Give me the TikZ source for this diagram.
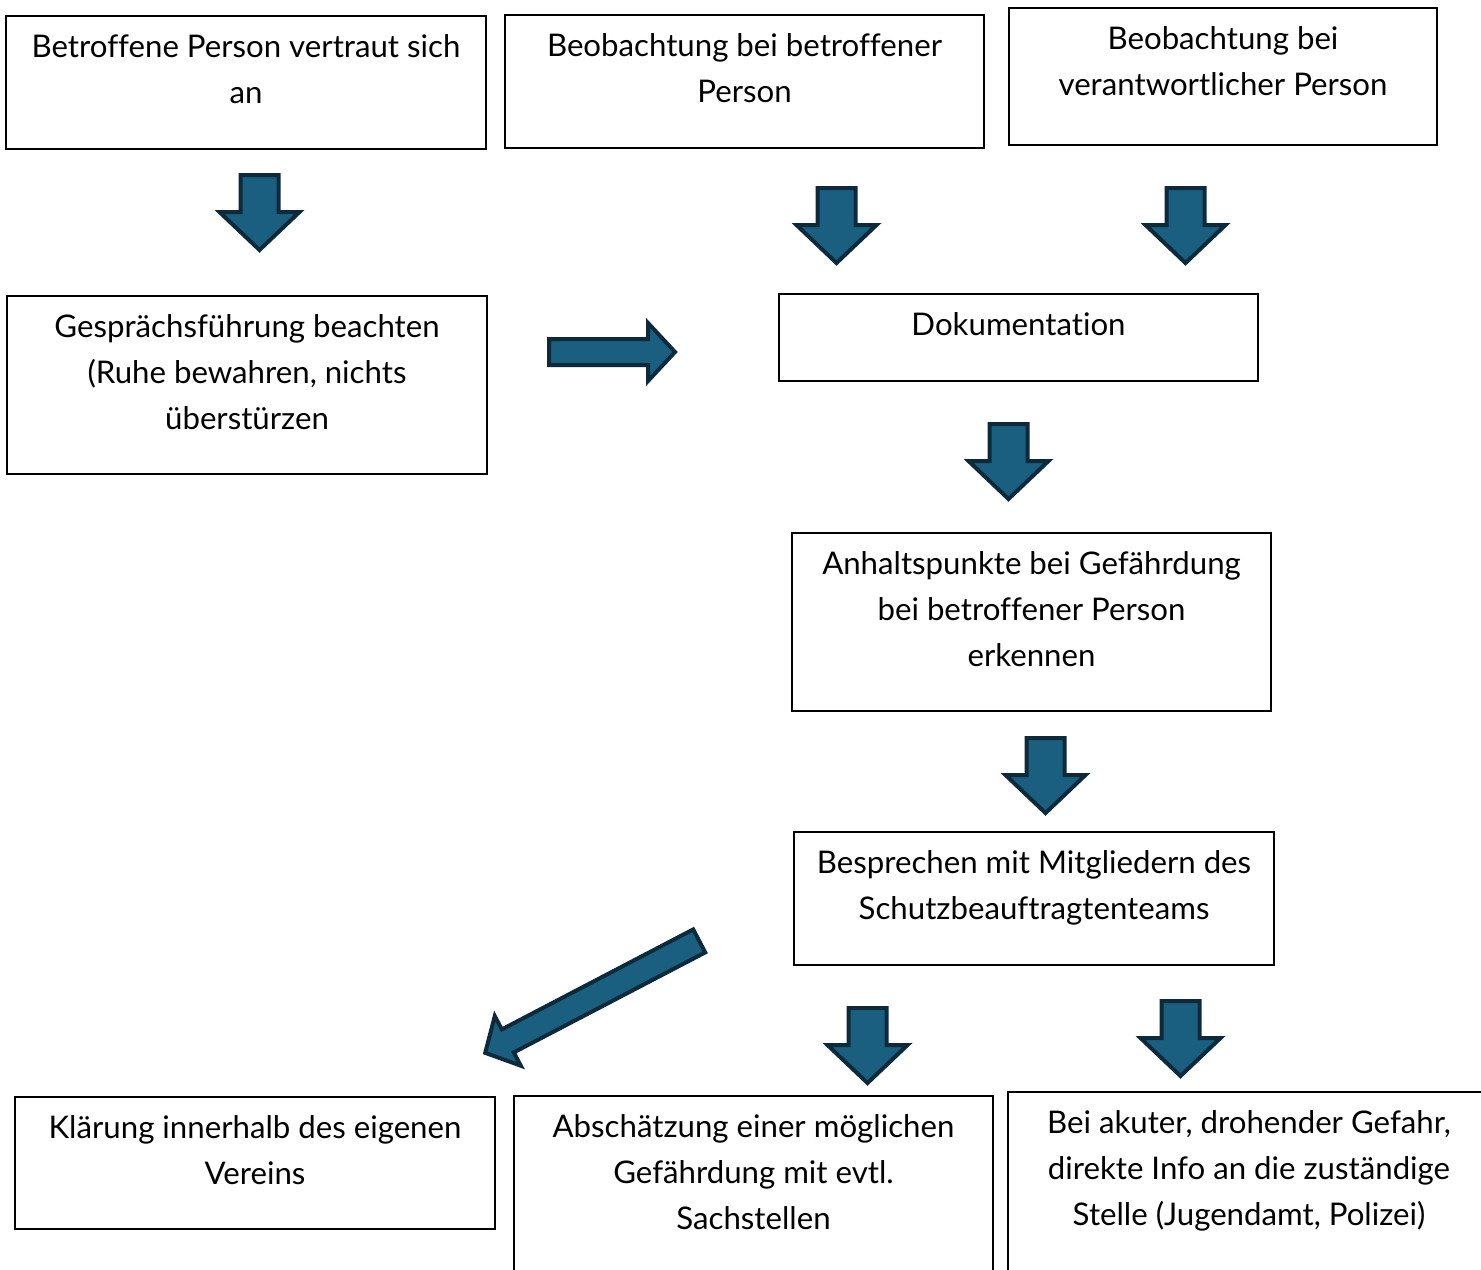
\documentclass[tikz,border=0pt]{standalone}
\usepackage{fontspec}
\setmainfont{Lato}[Ligatures=NoCommon]
\usetikzlibrary{fit, positioning}
\definecolor{arrowfill}{RGB}{26,95,128}
\definecolor{arrowline}{RGB}{13,42,58}

\begin{document}
\begin{tikzpicture}[x=0.5pt, y=-0.5pt,
    box/.style={draw, line width=1pt, inner sep=0pt},
    txt/.style={anchor=north, align=center, inner sep=0pt, font=\fontsize{15.6}{23}\selectfont},
    blockarrow/.style={draw=arrowline, fill=arrowfill, line width=2pt, line join=miter},
    downarrow/.pic={\draw[blockarrow] (-19,0) -- (19,0) -- (19,37) -- (40,37) -- (0,75) -- (-40,37) -- (-19,37) -- cycle;}]
  \useasboundingbox (0,0) rectangle (1481,1269);
  \clip (0,0) rectangle (1481,1269);
  % boxes
  \node[box, fit={(6,16) (486,149)}] (vertraut) {};
  \node[box, fit={(505,15) (984,148)}] (betroffen) {};
  \node[box, fit={(1009,8) (1437,145)}] (verantwortlich) {};
  \node[box, fit={(7,296) (487,474)}] (gespraech) {};
  \node[box, fit={(779,294) (1258,381)}] (doku) {};
  \node[box, fit={(792,533) (1271,711)}] (anhalt) {};
  \node[box, fit={(794,832) (1274,965)}] (besprechen) {};
  \node[box, fit={(15,1097) (495,1229)}] (klaerung) {};
  \node[box, fit={(514,1096) (993,1276)}] (abschaetzung) {};
  \node[box, fit={(1008,1092) (1490,1276)}] (gefahr) {};
  % texts
  \node[txt] (vertrauttxt) at ([yshift=-9.75pt]vertraut.north) {Betroffene Person vertraut sich\\an};
  \node[txt] (betroffentxt) at ([yshift=-9.75pt]betroffen.north) {Beobachtung bei betroffener\\Person};
  \node[txt] (verantwortlichtxt) at ([yshift=-9.75pt]verantwortlich.north) {Beobachtung bei\\verantwortlicher Person};
  \node[txt] (gespraechtxt) at ([yshift=-9.75pt]gespraech.north) {Gesprächsführung beachten\\(Ruhe bewahren, nichts\\überstürzen};
  \node[txt] (dokutxt) at ([yshift=-9.75pt]doku.north) {Dokumentation};
  \node[txt] (anhalttxt) at ([yshift=-9.75pt]anhalt.north) {Anhaltspunkte bei Gefährdung\\bei betroffener Person\\erkennen};
  \node[txt] (besprechentxt) at ([yshift=-9.75pt]besprechen.north) {Besprechen mit Mitgliedern des\\Schutzbeauftragtenteams};
  \node[txt] (klaerungtxt) at ([yshift=-9.75pt]klaerung.north) {Klärung innerhalb des eigenen\\Vereins};
  \node[txt] (abschaetzungtxt) at ([yshift=-9.75pt]abschaetzung.north) {Abschätzung einer möglichen\\Gefährdung mit evtl.\\Sachstellen};
  \node[txt] (gefahrtxt) at ([yshift=-9.75pt]gefahr.north) {Bei akuter, drohender Gefahr,\\direkte Info an die zuständige\\Stelle (Jugendamt, Polizei)};
  % arrows
  \pic at (259.5,175) {downarrow};
  \pic at (836.5,188) {downarrow};
  \pic at (1185.5,188) {downarrow};
  \pic at (1008.5,424) {downarrow};
  \pic at (1045.5,738) {downarrow};
  \pic at (867.5,1008) {downarrow};
  \pic at (1180.5,1001) {downarrow};
  \draw[blockarrow] (549,339) -- (648,339) -- (648,323) -- (675,352) -- (648,381) -- (648,365) -- (549,365) -- cycle;
  \draw[blockarrow] (705.2,952.4) -- (513.8,1052.4) -- (520.8,1065.7) -- (485.2,1052.8)
    -- (494.8,1016.1) -- (501.8,1029.4) -- (693.2,929.4) -- cycle;
\end{tikzpicture}
\end{document}
